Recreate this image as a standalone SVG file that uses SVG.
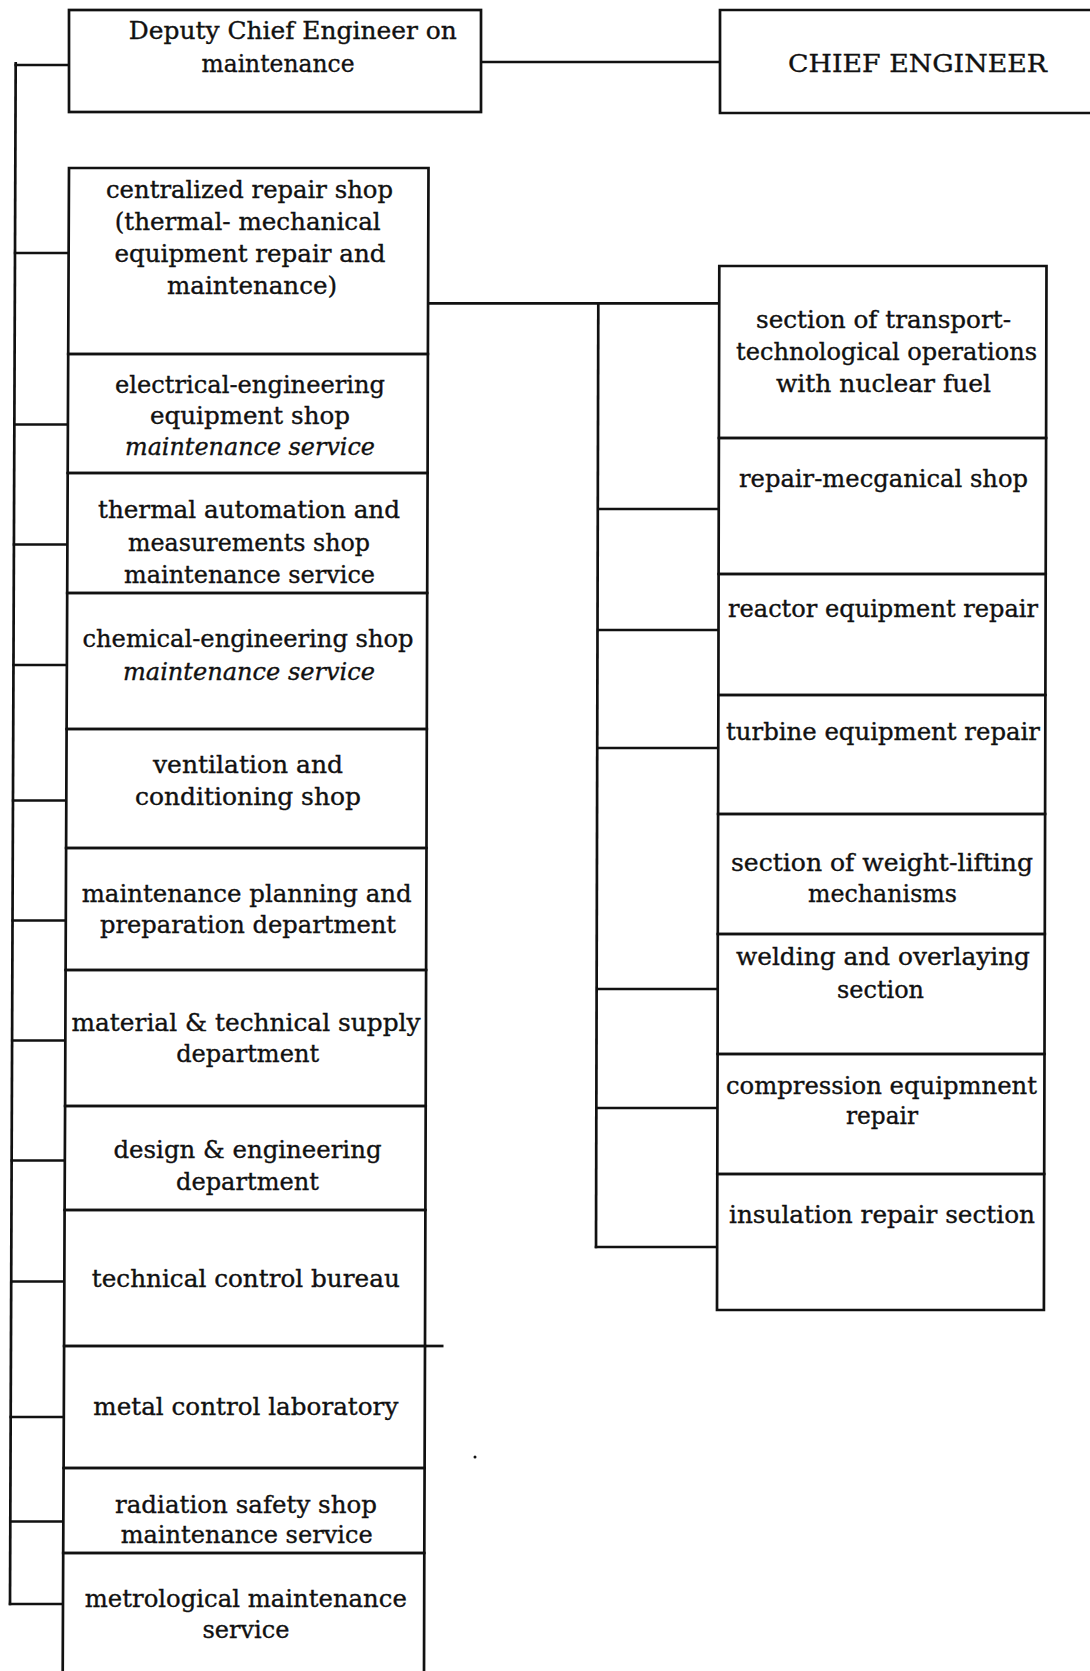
<svg xmlns="http://www.w3.org/2000/svg" width="1090" height="1671" viewBox="0 0 1090 1671">
<style>
.box{fill:none;stroke:#111;stroke-width:2.7;stroke-linejoin:miter}
.ln{fill:none;stroke:#111;stroke-width:2.7}
text{font-family:"DejaVu Serif","Liberation Serif",serif;font-size:24px;fill:#111;stroke:#111;stroke-width:0.35;text-anchor:middle}
.it{font-style:italic}
.cap{font-size:25px}
</style>
<rect width="1090" height="1671" fill="#fff"/>

<g id="connectors">
<path class="ln" d="M481,62 H720"/>
<path class="ln" d="M15.7,62 L10,1605.3"/>
<path class="ln" d="M14.5,65 H69"/>
<path class="ln" d="M13.8,253 H68.9"/>
<path class="ln" d="M13.2,424.5 H68.2"/>
<path class="ln" d="M12.7,544.5 H67.7"/>
<path class="ln" d="M12.3,665 H67.2"/>
<path class="ln" d="M11.8,800.5 H66.6"/>
<path class="ln" d="M11.3,920.5 H66.1"/>
<path class="ln" d="M10.9,1040.5 H65.6"/>
<path class="ln" d="M10.4,1160.5 H65.1"/>
<path class="ln" d="M10,1281.5 H64.6"/>
<path class="ln" d="M9.5,1417 H64"/>
<path class="ln" d="M9.1,1521.5 H63.6"/>
<path class="ln" d="M8.8,1604 H63.3"/>
<path class="ln" d="M428.3,303.3 H719.2"/>
<path class="ln" d="M598.3,302 L596,1248.2"/>
<path class="ln" d="M597.8,509 H718.8"/>
<path class="ln" d="M597.5,630 H718.5"/>
<path class="ln" d="M597.2,748 H718.2"/>
<path class="ln" d="M596.6,989 H717.7"/>
<path class="ln" d="M596.3,1108 H717.4"/>
<path class="ln" d="M594.8,1247 H717.1"/>
</g>

<g id="deputy">
<rect class="box" x="69" y="10" width="412" height="102"/>
<text x="292.8" y="39" textLength="328" lengthAdjust="spacingAndGlyphs">Deputy Chief Engineer on</text>
<text x="278" y="72" textLength="153" lengthAdjust="spacingAndGlyphs">maintenance</text>
</g>

<g id="chief">
<path class="box" d="M1100,10 H720 V113 H1100"/>
<text class="cap" x="917.5" y="72" textLength="259" lengthAdjust="spacingAndGlyphs">CHIEF ENGINEER</text>
</g>

<g id="centralized">
<path class="box" d="M69,168 L428.5,168 L427.9,354 L68.2,354 Z"/>
<text x="249.5" y="198" textLength="287" lengthAdjust="spacingAndGlyphs">centralized repair shop</text>
<text x="247.7" y="230" textLength="266" lengthAdjust="spacingAndGlyphs">(thermal- mechanical</text>
<text x="250" y="262" textLength="271" lengthAdjust="spacingAndGlyphs">equipment repair and</text>
<text x="252" y="294" textLength="170" lengthAdjust="spacingAndGlyphs">maintenance)</text>
</g>

<g id="electrical">
<path class="box" d="M68.2,354 L427.9,354 L427.6,473 L67.7,473 Z"/>
<text x="250" y="393" textLength="270" lengthAdjust="spacingAndGlyphs">electrical-engineering</text>
<text x="250" y="423.5" textLength="200" lengthAdjust="spacingAndGlyphs">equipment shop</text>
<text class="it" x="250" y="455" textLength="250" lengthAdjust="spacingAndGlyphs">maintenance service</text>
</g>

<g id="thermal">
<path class="box" d="M67.7,473 L427.6,473 L427.2,593 L67.2,593 Z"/>
<text x="249" y="518" textLength="302" lengthAdjust="spacingAndGlyphs">thermal automation and</text>
<text x="249" y="550.5" textLength="242" lengthAdjust="spacingAndGlyphs">measurements shop</text>
<text x="249.5" y="582.5" textLength="251" lengthAdjust="spacingAndGlyphs">maintenance service</text>
</g>

<g id="chemical">
<path class="box" d="M67.2,593 L427.2,593 L426.8,729 L66.6,729 Z"/>
<text x="248" y="646.5" textLength="331" lengthAdjust="spacingAndGlyphs">chemical-engineering shop</text>
<text class="it" x="249" y="680" textLength="252" lengthAdjust="spacingAndGlyphs">maintenance service</text>
</g>

<g id="ventilation">
<path class="box" d="M66.6,729 L426.8,729 L426.5,848 L66.1,848 Z"/>
<text x="248" y="773" textLength="190" lengthAdjust="spacingAndGlyphs">ventilation and</text>
<text x="248" y="805" textLength="226" lengthAdjust="spacingAndGlyphs">conditioning shop</text>
</g>

<g id="planning">
<path class="box" d="M66.1,848 L426.5,848 L426.1,970 L65.6,970 Z"/>
<text x="246.7" y="901.5" textLength="330" lengthAdjust="spacingAndGlyphs">maintenance planning and</text>
<text x="248" y="933" textLength="296" lengthAdjust="spacingAndGlyphs">preparation department</text>
</g>

<g id="material">
<path class="box" d="M65.6,970 L426.1,970 L425.7,1106 L65.1,1106 Z"/>
<text x="246" y="1030.5" textLength="349" lengthAdjust="spacingAndGlyphs">material &amp; technical supply</text>
<text x="247.7" y="1061.5" textLength="143" lengthAdjust="spacingAndGlyphs">department</text>
</g>

<g id="design">
<path class="box" d="M65.1,1106 L425.7,1106 L425.4,1210 L64.6,1210 Z"/>
<text x="247.5" y="1158" textLength="268" lengthAdjust="spacingAndGlyphs">design &amp; engineering</text>
<text x="247.5" y="1190" textLength="143" lengthAdjust="spacingAndGlyphs">department</text>
</g>

<g id="technical-control">
<path class="box" d="M64.6,1210 L425.4,1210 L425,1346 L64.1,1346 Z"/>
<path class="ln" d="M425,1346 H443.5"/>
<text x="245.8" y="1286.5" textLength="308" lengthAdjust="spacingAndGlyphs">technical control bureau</text>
</g>

<g id="metal-control">
<path class="box" d="M64.1,1346 L425,1346 L424.6,1468 L63.6,1468 Z"/>
<text x="245.8" y="1415" textLength="305" lengthAdjust="spacingAndGlyphs">metal control laboratory</text>
</g>

<g id="radiation">
<path class="box" d="M63.6,1468 L424.6,1468 L424.3,1553 L63.2,1553 Z"/>
<text x="246" y="1513" textLength="262" lengthAdjust="spacingAndGlyphs">radiation safety shop</text>
<text x="246.7" y="1543" textLength="252" lengthAdjust="spacingAndGlyphs">maintenance service</text>
</g>

<g id="metrological">
<path class="box" d="M62.7,1675 L63.2,1553 L424.3,1553 L424,1675"/>
<text x="245.8" y="1606.5" textLength="322" lengthAdjust="spacingAndGlyphs">metrological maintenance</text>
<text x="246" y="1638" textLength="87" lengthAdjust="spacingAndGlyphs">service</text>
</g>

<g id="transport">
<path class="box" d="M719.3,266 L1046.5,266 L1046.1,438 L718.9,438 Z"/>
<text x="883.5" y="328" textLength="255" lengthAdjust="spacingAndGlyphs">section of transport-</text>
<text x="886.5" y="360" textLength="301" lengthAdjust="spacingAndGlyphs">technological operations</text>
<text x="883.5" y="391.5" textLength="215" lengthAdjust="spacingAndGlyphs">with nuclear fuel</text>
</g>

<g id="repair-mechanical">
<path class="box" d="M718.9,438 L1046.1,438 L1045.7,574 L718.6,574 Z"/>
<text x="883.5" y="487" textLength="289" lengthAdjust="spacingAndGlyphs">repair-mecganical shop</text>
</g>

<g id="reactor">
<path class="box" d="M718.6,574 L1045.7,574 L1045.4,695 L718.4,695 Z"/>
<text x="883" y="616.5" textLength="310" lengthAdjust="spacingAndGlyphs">reactor equipment repair</text>
</g>

<g id="turbine">
<path class="box" d="M718.4,695 L1045.4,695 L1045.1,814 L718.1,814 Z"/>
<text x="883" y="740" textLength="314" lengthAdjust="spacingAndGlyphs">turbine equipment repair</text>
</g>

<g id="weight-lifting">
<path class="box" d="M718.1,814 L1045.1,814 L1044.8,934 L717.8,934 Z"/>
<text x="882" y="871" textLength="302" lengthAdjust="spacingAndGlyphs">section of weight-lifting</text>
<text x="882.5" y="902" textLength="149" lengthAdjust="spacingAndGlyphs">mechanisms</text>
</g>

<g id="welding">
<path class="box" d="M717.8,934 L1044.8,934 L1044.5,1054 L717.6,1054 Z"/>
<text x="883" y="965" textLength="294" lengthAdjust="spacingAndGlyphs">welding and overlaying</text>
<text x="880.5" y="998" textLength="87" lengthAdjust="spacingAndGlyphs">section</text>
</g>

<g id="compression">
<path class="box" d="M717.6,1054 L1044.5,1054 L1044.2,1174 L717.3,1174 Z"/>
<text x="881.5" y="1094" textLength="311" lengthAdjust="spacingAndGlyphs">compression equipmnent</text>
<text x="882" y="1123.5" textLength="72" lengthAdjust="spacingAndGlyphs">repair</text>
</g>

<g id="insulation">
<path class="box" d="M717.3,1174 L1044.2,1174 L1043.9,1310 L717,1310 Z"/>
<text x="882" y="1223" textLength="306" lengthAdjust="spacingAndGlyphs">insulation repair section</text>
</g>

<circle cx="475" cy="1457" r="1.5" fill="#111"/>
</svg>
